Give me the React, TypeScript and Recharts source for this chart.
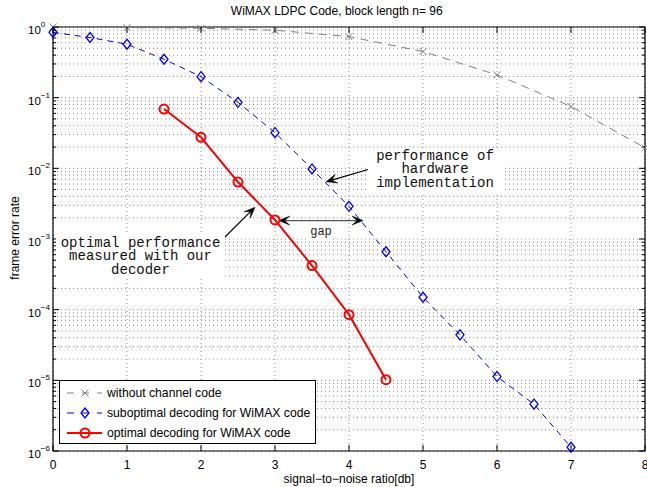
import React from "react";
import {
  CartesianGrid,
  ComposedChart,
  Legend,
  Line,
  ReferenceArea,
  ReferenceLine,
  XAxis,
  YAxis,
} from "recharts";

// plot frame
const W = 647;
const H = 487;
const MARGIN = { top: 27, right: 2, left: 0, bottom: 0 };
const Y_AXIS_W = 53;
const X_AXIS_H = 36;
const PLOT_L = MARGIN.left + Y_AXIS_W;
const PLOT_R = W - MARGIN.right;
const PLOT_T = MARGIN.top;
const PLOT_B = H - MARGIN.bottom - X_AXIS_H;

const SANS = "'Liberation Sans', Arial, Helvetica, sans-serif";
const MONO = "'Liberation Mono', 'Courier New', monospace";

// data
const snrUncoded = [0, 1, 2, 3, 4, 5, 6, 7, 8];
const ferUncoded = [1.0, 0.98, 0.96, 0.9, 0.73, 0.45, 0.21, 0.075, 0.0195];

const snrSubopt = [0, 0.5, 1, 1.5, 2, 2.5, 3, 3.5, 4, 4.5, 5, 5.5, 6, 6.5, 7];
const ferSubopt = [
  0.84, 0.71, 0.57, 0.35, 0.198, 0.086, 0.032, 0.0098, 0.0029, 6.6e-4, 1.5e-4, 4.4e-5,
  1.13e-5, 4.6e-6, 1.13e-6,
];

const snrOpt = [1.5, 2, 2.5, 3, 3.5, 4, 4.5];
const ferOpt = [0.069, 0.0275, 6.4e-3, 1.86e-3, 4.2e-4, 8.5e-5, 1.02e-5];

const xTicks = [0, 1, 2, 3, 4, 5, 6, 7, 8];
const decades = [-6, -5, -4, -3, -2, -1, 0];

// annotation arrows, in data units
const hardwareArrow = [
  { x: 4.28, y: 0.0098 },
  { x: 3.69, y: 0.00645 },
];
const optimalArrow = [
  { x: 2.32, y: 1.06e-3 },
  { x: 2.73, y: 2.82e-3 },
];
const gapArrow = [
  { x: 3.05, y: 1.82e-3 },
  { x: 4.19, y: 1.82e-3 },
];

const yTicks: number[] = [];
decades.forEach((e) => {
  for (let m = 1; m <= 9; m++) {
    if (e === 0 && m > 1) break;
    yTicks.push(e < 0 ? m / Math.pow(10, -e) : m * Math.pow(10, e));
  }
});

const toRows = (xs: number[], ys: number[]) => xs.map((snr, i) => ({ snr, fer: ys[i] }));
const uncodedRows = toRows(snrUncoded, ferUncoded);
const suboptRows = toRows(snrSubopt, ferSubopt);
const optRows = toRows(snrOpt, ferOpt);

const XMark = ({ cx, cy, stroke }: any) => {
  if (cx == null || cy == null) return null;
  const s = 3.5;
  return (
    <path
      d={`M${cx - s},${cy - s}L${cx + s},${cy + s}M${cx - s},${cy + s}L${cx + s},${cy - s}`}
      stroke={stroke}
      strokeWidth={1}
      fill="none"
    />
  );
};

const Diamond = ({ cx, cy, stroke }: any) => {
  if (cx == null || cy == null) return null;
  return (
    <path
      d={`M${cx},${cy - 5}L${cx + 4},${cy}L${cx},${cy + 5}L${cx - 4},${cy}Z`}
      stroke={stroke}
      strokeWidth={1.3}
      fill="none"
    />
  );
};

const Ring = ({ cx, cy, stroke }: any) => {
  if (cx == null || cy == null) return null;
  return <circle cx={cx} cy={cy} r={4.5} stroke={stroke} strokeWidth={2} fill="none" />;
};

const series = [
  { key: "uncoded", name: "without channel code", color: "#808080", dash: "8 6", width: 1, Mark: XMark, rows: uncodedRows },
  { key: "subopt", name: "suboptimal decoding for WiMAX code", color: "#0000ff", dash: "6 5", width: 1, Mark: Diamond, rows: suboptRows },
  { key: "opt", name: "optimal decoding for WiMAX code", color: "#ff0000", dash: undefined, width: 2, Mark: Ring, rows: optRows },
];

const XTick = ({ x, payload }: any) => (
  <g>
    <line x1={x} x2={x} y1={PLOT_B} y2={PLOT_B - 6} stroke="#000" />
    <line x1={x} x2={x} y1={PLOT_T} y2={PLOT_T + 6} stroke="#000" />
    <text x={x} y={PLOT_B + 18} textAnchor="middle" fontSize={12} fontFamily={SANS} fill="#000">
      {payload.value}
    </text>
  </g>
);

const YTick = ({ y, payload }: any) => {
  const lg = Math.log10(payload.value);
  const e = Math.round(lg);
  const major = Math.abs(lg - e) < 1e-6;
  const len = major ? 6 : 3;
  return (
    <g>
      <line x1={PLOT_L} x2={PLOT_L + len} y1={y} y2={y} stroke="#000" />
      <line x1={PLOT_R - len} x2={PLOT_R} y1={y} y2={y} stroke="#000" />
      {major && (
        <text x={28} y={y + 7} fontSize={11.5} fontFamily={SANS} fill="#000">
          10
          <tspan dy={-7} fontSize={8}>
            {e === 0 ? "0" : "\u2212" + -e}
          </tspan>
        </text>
      )}
    </g>
  );
};

const arrowShape = (both: boolean, lineColor: string) => (props: any) => {
  const { x1, y1, x2, y2 } = props;
  if ([x1, y1, x2, y2].some((v) => v == null || isNaN(v))) return null;
  const dx = x2 - x1;
  const dy = y2 - y1;
  const len = Math.hypot(dx, dy) || 1;
  const ux = dx / len;
  const uy = dy / len;
  const L = 11;
  const w = 4.5;
  const head = (tx: number, ty: number, sx: number, sy: number) =>
    `M${tx},${ty}L${tx - L * sx - w * sy},${ty - L * sy + w * sx}L${tx - 0.55 * L * sx},${ty - 0.55 * L * sy}L${tx - L * sx + w * sy},${ty - L * sy - w * sx}Z`;
  const startX = both ? x1 + 0.55 * L * ux : x1;
  const startY = both ? y1 + 0.55 * L * uy : y1;
  return (
    <g>
      <line
        x1={startX}
        y1={startY}
        x2={x2 - 0.55 * L * ux}
        y2={y2 - 0.55 * L * uy}
        stroke={lineColor}
        strokeWidth={1.2}
      />
      <path d={head(x2, y2, ux, uy)} fill="#000" stroke="#000" strokeWidth={0.5} />
      {both && <path d={head(x1, y1, -ux, -uy)} fill="#000" stroke="#000" strokeWidth={0.5} />}
    </g>
  );
};

const LegendBox = () => (
  <div
    style={{
      width: 255,
      height: 62,
      border: "1px solid #000",
      background: "#fff",
      fontFamily: SANS,
      fontSize: 12.2,
      color: "#000",
      boxSizing: "content-box",
    }}
  >
    {series.map((s, i) => {
      const { Mark } = s;
      return (
        <div key={s.key} style={{ position: "absolute", left: 0, top: 4 + i * 20, height: 18, display: "flex", alignItems: "center" }}>
          <svg width={48} height={18}>
            <line x1={8} x2={43} y1={9} y2={9} stroke={s.color} strokeWidth={s.width} strokeDasharray={s.dash ? "7 8" : undefined} />
            <Mark cx={26} cy={9} stroke={s.color} />
          </svg>
          <span style={{ whiteSpace: "nowrap" }}>{s.name}</span>
        </div>
      );
    })}
  </div>
);

const noteStyle: React.CSSProperties = {
  position: "absolute",
  fontFamily: MONO,
  fontSize: 14,
  lineHeight: "13.3px",
  whiteSpace: "pre",
  textAlign: "center",
  background: "#fff",
  color: "#111",
  padding: "2px 1px",
};

export default function App() {
  return (
    <div style={{ position: "relative", width: W, height: H, background: "#fff" }}>
      <style>{"body{margin:0}"}</style>
      <ComposedChart width={W} height={H} margin={MARGIN}>
        <CartesianGrid stroke="#8c8c8c" strokeDasharray="1 3" />
        <XAxis
          dataKey="snr"
          type="number"
          domain={[0, 8]}
          ticks={xTicks}
          interval={0}
          height={X_AXIS_H}
          axisLine={false}
          tickLine={false}
          tickSize={0}
          tickMargin={0}
          tick={<XTick />}
        />
        <YAxis
          dataKey="fer"
          type="number"
          scale="log"
          domain={[1e-6, 1]}
          ticks={yTicks}
          interval={0}
          width={Y_AXIS_W}
          axisLine={false}
          tickLine={false}
          tickSize={0}
          tickMargin={0}
          tick={<YTick />}
        />
        <ReferenceArea x1={0} x2={8} y1={1e-6} y2={1} fill="none" stroke="#000" strokeWidth={1.2} fillOpacity={0} />
        {series.map((s) => (
          <Line
            key={s.key}
            data={s.rows}
            dataKey="fer"
            name={s.name}
            type="linear"
            stroke={s.color}
            strokeWidth={s.width}
            strokeDasharray={s.dash}
            dot={<s.Mark />}
            activeDot={false}
            isAnimationActive={false}
          />
        ))}
        <ReferenceLine segment={hardwareArrow} shape={arrowShape(false, "#000")} />
        <ReferenceLine segment={optimalArrow} shape={arrowShape(false, "#000")} />
        <ReferenceLine segment={gapArrow} shape={arrowShape(true, "#555")} />
        <Legend
          layout="vertical"
          align="center"
          verticalAlign="middle"
          content={<LegendBox />}
          wrapperStyle={{ position: "absolute", left: 59, top: 380, width: 257, height: 64 }}
        />
      </ComposedChart>

      <div
        style={{
          position: "absolute",
          left: 0,
          width: W,
          top: 4,
          textAlign: "center",
          paddingLeft: PLOT_L / 2,
          boxSizing: "border-box",
          fontFamily: SANS,
          fontSize: 12,
          color: "#000",
        }}
      >
        WiMAX LDPC Code, block length n= 96
      </div>
      <div
        style={{
          position: "absolute",
          left: PLOT_L,
          width: PLOT_R - PLOT_L,
          top: 472,
          textAlign: "center",
          fontFamily: SANS,
          fontSize: 12,
          color: "#000",
        }}
      >
        signal{"\u2212"}to{"\u2212"}noise ratio[db]
      </div>
      <div
        style={{
          position: "absolute",
          left: 15 - 60,
          top: (PLOT_T + PLOT_B) / 2 - 8,
          width: 120,
          textAlign: "center",
          transform: "rotate(-90deg)",
          fontFamily: SANS,
          fontSize: 12,
          color: "#000",
        }}
      >
        frame error rate
      </div>

      <div style={{ ...noteStyle, left: 368, top: 148, width: 132 }}>
        {"performance of\nhardware\nimplementation"}
      </div>
      <div style={{ ...noteStyle, left: 56, top: 235, width: 167 }}>
        {"optimal performance\nmeasured with our\ndecoder"}
      </div>
      <div style={{ ...noteStyle, fontSize: 12, left: 309, top: 225, width: 24, padding: "1px 0", color: "#222" }}>
        gap
      </div>
    </div>
  );
}
